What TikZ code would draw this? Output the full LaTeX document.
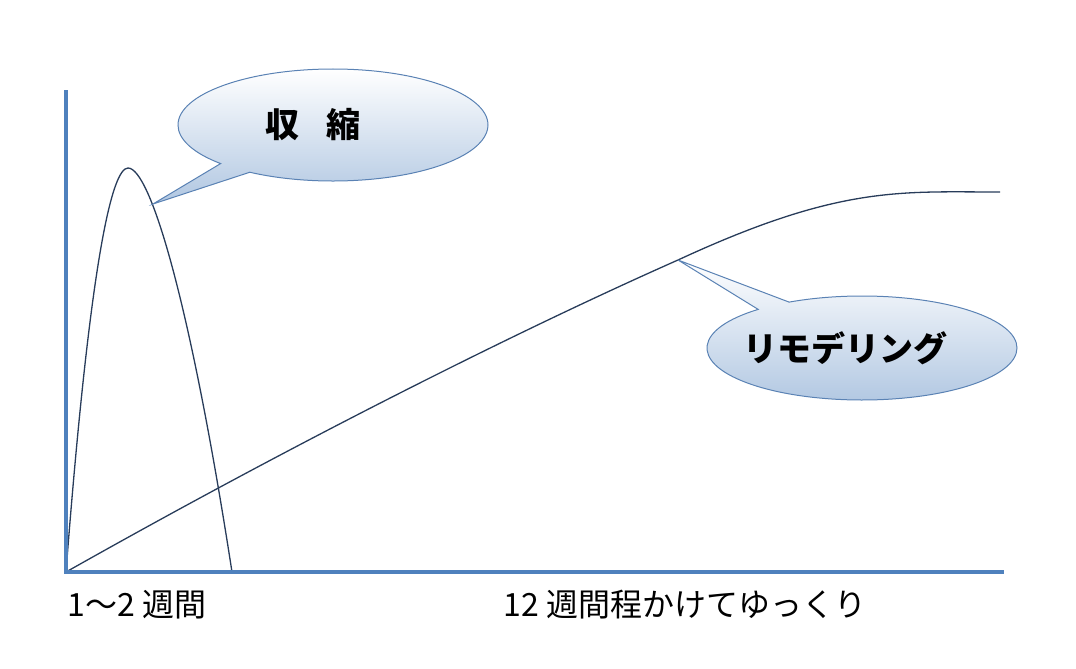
\documentclass[tikz,border=0pt]{standalone}
\usepackage{fontspec}
\setmainfont{Noto Sans CJK JP}
\usetikzlibrary{shapes.callouts, positioning}
\definecolor{axisblue}{RGB}{79,129,189}
\definecolor{curvenavy}{RGB}{40,60,90}
\definecolor{bubbleline}{RGB}{90,130,180}
\tikzset{x=1pt, y=-1pt,
         axis/.style={draw=axisblue, line width=4pt},
         curve/.style={draw=curvenavy, line width=1.3pt},
         bubble/.style={ellipse callout, draw=bubbleline, line width=1pt,
                        top color=white, bottom color=axisblue!45,
                        callout pointer arc=14, font=\fontsize{34}{40}\selectfont\bfseries},
         label/.style={font=\fontsize{32}{38}\selectfont, anchor=west},
        }
\begin{document}
\begin{tikzpicture}
    \useasboundingbox (0,0) rectangle (1076,669);
    \coordinate (origin) at (66,572);
    \coordinate (ytop) at (66,90);
    \coordinate (xend) at (1004,572);
    \coordinate (peak) at (128,168);
    \coordinate (fall) at (232,572);
    \coordinate (tipA) at (153,204);
    \coordinate (tipB) at (678,260);
    \coordinate (flat) at (1000,192);

    % curves
    \draw[curve] (origin) .. controls (90,260) and (112,168) .. (peak)
                 .. controls (150,168) and (190,300) .. (fall);
    \draw[curve] (origin) .. controls (300,440) and (520,330) .. (tipB)
                 .. controls (840,185) and (900,192) .. (flat);

    % axes
    \draw[axis] (ytop) -- (origin) -- (xend);

    % callouts
    \node[bubble, minimum width=310pt, minimum height=112pt,
          callout absolute pointer={(tipA)}] (shrink) at (333,125) {\hspace{-1.2em}収\hspace{0.8em}縮};
    \node[bubble, minimum width=310pt, minimum height=104pt,
          callout absolute pointer={(tipB)}] (remodel) at (862,348) {\hspace{-1em}リモデリング};

    % labels
    \node[label] (short) at (64,605) {1～2 週間};
    \node[label] (long) at (500,605) {12 週間程かけてゆっくり};
\end{tikzpicture}
\end{document}
